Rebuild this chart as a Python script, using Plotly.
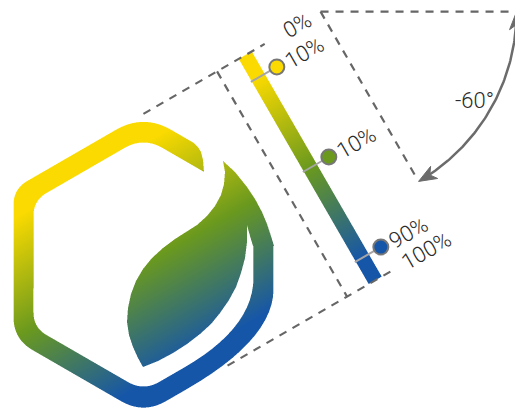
import numpy as np
import plotly.graph_objects as go

W, H = 523, 408
PAGE_MARGIN = 8   # default body margin of the html page; the plot area is aligned to the window

# ---------------- data ----------------
gradient_angle = -60                      # degrees
stop_offsets = [0.10, 0.50, 0.90]
stop_colors = ["#FADA00", "#6A991E", "#1656A8"]
stop_labels = ["10%", "10%", "90%"]
end_offsets = [0.0, 1.0]
end_labels = ["0%", "100%"]
angle_label = "-60°"

# ---------------- geometry (pixels, y down) ----------------
C = np.array([143.5, 264.0])            # hexagon centre
APO_OUT, APO_IN = 130.0, 110.0
GRAD_LEN = 2 * APO_OUT
OUT_D = [(32, 32), (20, 20), (50, 100), (26, 26), (22, 22), (16, 16)]
IN_D = [(22, 22), (12, 12), (50, 80), (18, 18), (15, 15), (15, 15)]
BAR_V = (185.0, 200.0)
CIRCLE_V = 214.0
STOP_LABEL_V = 245.5
END_LABEL_V = 252.0
SIDE_V = 160.0
ANGLE_V = 279.5
RAY_LEN = 193.0
ARC_R = 196.0

a = np.radians(gradient_angle)
U = np.array([np.cos(a), -np.sin(a)])   # gradient direction on screen
Vp = np.array([U[1], -U[0]])              # perpendicular direction


def frame(t, v):
    return C + (t * GRAD_LEN - GRAD_LEN / 2) * U + v * Vp


def hex_vertices(apo):
    R = apo / np.cos(np.radians(30))
    angs = np.radians([-90, -30, 30, 90, 150, 210])
    return np.stack([C[0] + R * np.cos(angs), C[1] + R * np.sin(angs)], axis=1)


def rounded(verts, dists, n=14):
    pts = []
    N = len(verts)
    for i in range(N):
        P, Q, Nx = verts[i - 1], verts[i], verts[(i + 1) % N]
        dp, dn = dists[i]
        ua = (P - Q) / np.linalg.norm(P - Q)
        ub = (Nx - Q) / np.linalg.norm(Nx - Q)
        T1, T2 = Q + ua * dp, Q + ub * dn
        s = np.linspace(0, 1, n)[:, None]
        pts.append((1 - s) ** 2 * T1 + 2 * (1 - s) * s * Q + s ** 2 * T2)
    return np.vstack(pts)


outer_poly = rounded(hex_vertices(APO_OUT), OUT_D)
inner_poly = rounded(hex_vertices(APO_IN), IN_D)

cut_poly = np.array([(190, 100), (193, 142), (198, 147), (201, 152), (203, 160), (204, 172),
                     (208, 195), (253, 246), (292, 246), (292, 100)], float)

leaf_poly = np.array([
    (223, 161), (225, 172), (224, 184), (221, 195), (215, 206), (207, 216), (197, 225),
    (186, 232), (175, 239), (163, 248), (152, 258), (143, 269), (136, 281), (131, 294),
    (128, 308), (127, 322), (129, 335), (133, 347), (138, 358), (143, 367),
    (158, 361), (173, 353), (187, 344), (200, 334), (211, 324), (220, 313), (229, 300),
    (236, 287), (241, 273), (245, 258), (247, 242), (247, 225),
    (250, 236), (253, 246), (274, 246), (271, 236), (267, 224), (262, 212), (255, 199),
    (247, 187), (235, 172)], float)


def pip(px, py, poly):
    inside = np.zeros(px.shape, dtype=bool)
    xs_, ys_ = poly[:, 0], poly[:, 1]
    for i in range(len(poly)):
        x1, y1, x2, y2 = xs_[i - 1], ys_[i - 1], xs_[i], ys_[i]
        if y1 == y2:
            continue
        m = (py > y1) != (py > y2)
        xint = x1 + (py - y1) * ((x2 - x1) / (y2 - y1))
        inside ^= m & (px < xint)
    return inside


# ---------------- raster of gradient-filled shapes ----------------
X0, X1, Y0, Y1 = 0, 400, 36, 408
S = 3
Wr, Hr = X1 - X0, Y1 - Y0
xs = (X0 + (np.arange(Wr * S) + 0.5) / S).astype(np.float32)
ys = (Y0 + (np.arange(Hr * S) + 0.5) / S).astype(np.float32)
PX, PY = np.meshgrid(xs, ys)

cov = np.zeros(PX.shape, dtype=bool)
r0 = (100 - Y0) * S
c1 = (292 - X0) * S
sx, sy = PX[r0:, :c1], PY[r0:, :c1]
ring = pip(sx, sy, outer_poly) & ~pip(sx, sy, inner_poly) & ~pip(sx, sy, cut_poly)
leaf = pip(sx, sy, leaf_poly)
cov[r0:, :c1] |= ring | leaf

relx, rely = PX - C[0], PY - C[1]
tt = (relx * U[0] + rely * U[1] + GRAD_LEN / 2) / GRAD_LEN
vv = relx * Vp[0] + rely * Vp[1]
cov |= (tt >= 0) & (tt <= 1) & (vv >= BAR_V[0]) & (vv <= BAR_V[1])

alpha = cov.reshape(Hr, S, Wr, S).mean(axis=(1, 3))

xc = X0 + np.arange(Wr) + 0.5
yc = Y0 + np.arange(Hr) + 0.5
XC, YC = np.meshgrid(xc, yc)
tp = ((XC - C[0]) * U[0] + (YC - C[1]) * U[1] + GRAD_LEN / 2) / GRAD_LEN


def hex2rgb(h):
    h = h.lstrip("#")
    return [int(h[i:i + 2], 16) for i in (0, 2, 4)]


rgb = np.array([hex2rgb(c) for c in stop_colors], float)
chan = [np.interp(tp, stop_offsets, rgb[:, k]) for k in range(3)]
img = np.dstack(chan + [alpha * 255]).round().astype(int)

fig = go.Figure()
fig.add_trace(go.Image(z=img.tolist(), colormodel="rgba", zmin=[0, 0, 0, 0],
                       zmax=[255, 255, 255, 255], x0=X0 + 0.5, y0=Y0 + 0.5, dx=1, dy=1,
                       hoverinfo="skip"))

DASH = dict(color="#666666", width=2.2, dash="8px,7px")


def seg(p, q, line):
    fig.add_trace(go.Scatter(x=[p[0], q[0]], y=[p[1], q[1]], mode="lines", line=line,
                             hoverinfo="skip", showlegend=False, cliponaxis=False))


seg(frame(end_offsets[0], 75), frame(end_offsets[0], 215), DASH)
seg(frame(end_offsets[1], 22), frame(end_offsets[1], 215), DASH)
seg(frame(end_offsets[0], SIDE_V), frame(end_offsets[1], SIDE_V), DASH)
A = frame(end_offsets[0], ANGLE_V)
seg(A, A + RAY_LEN * U, DASH)
seg(A, A + np.array([RAY_LEN, 0.0]), DASH)

# stop connectors and markers
for s in stop_offsets:
    seg(frame(s, 184), frame(s, CIRCLE_V), dict(color="#A5A5A5", width=2))
cpts = np.array([frame(s, CIRCLE_V) for s in stop_offsets])
fig.add_trace(go.Scatter(x=cpts[:, 0], y=cpts[:, 1], mode="markers",
                         marker=dict(size=15, color=stop_colors,
                                     line=dict(color="#777777", width=2)),
                         hoverinfo="skip", showlegend=False))

# angle arc with arrowheads
ARC_COL = "#6B6B6B"
th_end = np.radians(-gradient_angle)
L_AR, W_AR, NOTCH = 18.0, 7.0, 5.0
trim = (L_AR - NOTCH) / ARC_R
th = np.linspace(trim, th_end - trim, 80)
fig.add_trace(go.Scatter(x=A[0] + ARC_R * np.cos(th), y=A[1] + ARC_R * np.sin(th),
                         mode="lines", line=dict(color=ARC_COL, width=2.5),
                         hoverinfo="skip", showlegend=False))


def arrowhead(theta, d):
    E = A + ARC_R * np.array([np.cos(theta), np.sin(theta)])
    n = np.array([-d[1], d[0]])
    B = E - L_AR * d
    Nt = E - (L_AR - NOTCH) * d
    pts = np.array([E, B + W_AR * n, Nt, B - W_AR * n, E])
    fig.add_trace(go.Scatter(x=pts[:, 0], y=pts[:, 1], mode="lines", fill="toself",
                             fillcolor=ARC_COL, line=dict(color=ARC_COL, width=1),
                             hoverinfo="skip", showlegend=False, cliponaxis=False))


arrowhead(0.0, np.array([np.sin(0.0), -np.cos(0.0)]))
arrowhead(th_end, np.array([-np.sin(th_end), np.cos(th_end)]))

FONT = dict(family="Roboto, Liberation Sans, sans-serif", size=22, color="#2b2b2b",
            weight=300)
tangle = -(90 + gradient_angle)
for s, lab in zip(stop_offsets, stop_labels):
    p = frame(s + 0.005, STOP_LABEL_V)
    fig.add_annotation(x=p[0], y=p[1], text=lab, showarrow=False, textangle=tangle,
                       font=FONT, xanchor="center", yanchor="middle")
for s, lab in zip(end_offsets, end_labels):
    p = frame(s, END_LABEL_V)
    fig.add_annotation(x=p[0], y=p[1], text=lab, showarrow=False, textangle=tangle,
                       font=FONT, xanchor="center", yanchor="middle")
bis = th_end / 2
pl = A + 178 * np.array([np.cos(bis), np.sin(bis)])
fig.add_annotation(x=pl[0], y=pl[1], text=angle_label, showarrow=False, font=FONT,
                   xanchor="center", yanchor="middle")

# the plot div sits PAGE_MARGIN px inside the window: size and ranges so that
# axis units coincide with window pixels
fig.update_layout(width=W - PAGE_MARGIN, height=H - PAGE_MARGIN,
                  margin=dict(l=0, r=0, t=0, b=0, pad=0, autoexpand=False),
                  paper_bgcolor="white", plot_bgcolor="white", showlegend=False,
                  xaxis=dict(range=[PAGE_MARGIN, W], visible=False, fixedrange=True),
                  yaxis=dict(range=[H, PAGE_MARGIN], visible=False, fixedrange=True))
fig.write_html("out.html")
